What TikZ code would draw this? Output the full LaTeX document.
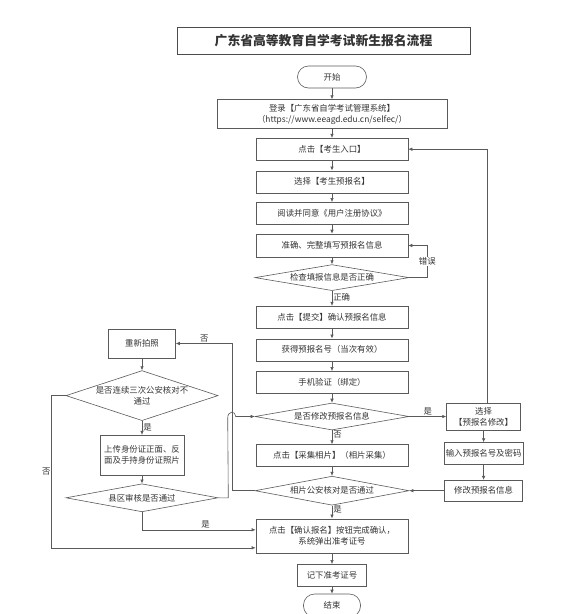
\documentclass[tikz,border=0pt]{standalone}
\usepackage{fontspec}
\setmainfont{Noto Sans CJK SC}
\usetikzlibrary{arrows.meta, positioning, shapes.geometric}
\definecolor{edge}{HTML}{5A5A5A}
\definecolor{ink}{HTML}{333333}
\tikzset{
  box/.style={rectangle,draw=edge,align=center,inner sep=2pt,minimum width=152pt,minimum height=22pt,text=ink,font=\fontsize{8.4}{11}\selectfont},
  decision/.style={diamond,draw=edge,aspect=5.7,align=center,inner sep=0pt,minimum width=154pt,minimum height=27pt,text=ink,font=\fontsize{8.4}{11}\selectfont},
  terminal/.style={rectangle,draw=edge,rounded corners=11pt,minimum width=69pt,minimum height=22pt,text=ink,font=\fontsize{8.4}{11}\selectfont},
  line/.style={-{Latex[length=4pt,width=3.5pt]},draw=edge},
  tag/.style={text=ink,font=\fontsize{8.4}{11}\selectfont,inner sep=1pt}
}
\begin{document}
\begin{tikzpicture}[x=1pt,y=-1pt,node distance=9pt and 12pt,line width=0.6pt]
\useasboundingbox (0,0) rectangle (571,614);
\node[box,minimum width=293pt,minimum height=27pt,font=\fontsize{12.8}{14}\selectfont\bfseries,draw=black!70] (title) at (323.5,40.5) {广东省高等教育自学考试新生报名流程};
% main column
\node[terminal] (start) at (332,77) {开始};
\node[box,below=11pt of start,minimum width=230pt,minimum height=29pt,inner sep=1pt] (login) {登录【广东省自学考试管理系统】\\（https://www.eeagd.edu.cn/selfec/）};
\node[box,below=of login] (entry) {点击【考生入口】};
\node[box,below=10pt of entry] (choose) {选择【考生预报名】};
\node[box,below=of choose] (read) {阅读并同意《用户注册协议》};
\node[box,below=of read,minimum height=23pt] (fill) {准确、完整填写预报名信息};
\node[decision,below=7pt of fill,minimum height=26pt] (check) {检查填报信息是否正确};
\node[box,below=15pt of check] (submit) {点击【提交】确认预报名信息};
\node[box,below=10pt of submit] (getno) {获得预报名号（当次有效）};
\node[box,below=10pt of getno] (phone) {手机验证（绑定）};
\node[decision,below=of phone] (modq) {是否修改预报名信息};
\node[box,below=14pt of modq] (photo) {点击【采集相片】（相片采集）};
\node[decision,below=of photo,minimum height=29pt] (photoq) {相片公安核对是否通过};
\node[box,below=13pt of photoq,minimum height=34pt] (confirm) {点击【确认报名】按钮完成确认，\\系统弹出准考证号};
\node[box,below=11pt of confirm,minimum width=69pt] (note) {记下准考证号};
\node[terminal,below=7pt of note,minimum width=57pt,minimum height=23pt] (stop) {结束};
% right column
\node[box,right=37pt of modq,minimum width=74pt,minimum height=27pt] (sel) {选择\\【预报名修改】};
\node[box,below=12pt of sel,minimum width=78pt] (pwd) {输入预报名号及密码};
\node[box,minimum width=78pt,minimum height=21pt] (edit) at (pwd |- photoq) {修改预报名信息};
% left column
\node[box,minimum width=67pt,minimum height=29pt] (redo) at (142,343.5) {重新拍照};
\node[decision,aspect=3,minimum width=152pt,minimum height=50pt,below=12pt of redo] (triq) {是否连续三次公安核对不\\通过};
\node[box,below=14pt of triq,minimum width=84pt,minimum height=40pt] (upload) {上传身份证正面、反\\面及手持身份证照片};
\node[decision,below=8pt of upload,minimum width=152pt,minimum height=28pt] (countyq) {县区审核是否通过};

\draw[line] (start) -- (login);
\draw[line] (login) -- (entry);
\draw[line] (entry) -- (choose);
\draw[line] (choose) -- (read);
\draw[line] (read) -- (fill);
\draw[line] (fill) -- (check);
\draw[line] (check) -- node[tag,right,pos=0.4] {正确} (submit);
\draw[line] (check.east) -- ++(18,0) |- node[tag,fill=white,pos=0.25] {错误} (fill.east);
\draw[line] (submit) -- (getno);
\draw[line] (getno) -- (phone);
\draw[line] (phone) -- (modq);
\draw[line] (modq) -- node[tag,right,pos=0.3] {否} (photo);
\draw[line] (photo) -- (photoq);
\draw[line] (photoq) -- node[tag,right,pos=0.3] {是} (confirm);
\draw[line] (confirm) -- (note);
\draw[line] (note) -- (stop);
\draw[line] (modq) -- node[tag,above] {是} (sel);
\draw[line] ([xshift=4pt]sel.north) |- (entry.east);
\draw[line] (sel) -- (pwd);
\draw[line] (pwd) -- (edit);
\draw[line] (edit) -- (photoq);
\draw[line] (photoq.west) -- ++(-22,0) coordinate (turn) |- node[tag,above,pos=0.75] {否} (redo.east);
\coordinate (hop) at (turn |- modq.west);
\draw[line] (redo) -- (triq);
\draw[line] (triq) -- node[tag,right] {是} (upload);
\draw[line] (upload) -- (countyq);
\draw[line] (countyq.east) -- ++(10,0) -- ([xshift=-5pt,yshift=-1.5pt]hop) .. controls ([xshift=-5pt,yshift=6pt]hop) and ([xshift=3pt,yshift=6pt]hop) .. ([xshift=3pt]hop) -- (modq.west);
\draw[line] (countyq.south) |- node[tag,above,pos=0.78] {是} ([yshift=6pt]confirm.west);
\draw[line] (triq.west) -- ++(-14,0) |- node[tag,left,pos=0.25] {否} ([yshift=-12pt]confirm.west);
\end{tikzpicture}
\end{document}
